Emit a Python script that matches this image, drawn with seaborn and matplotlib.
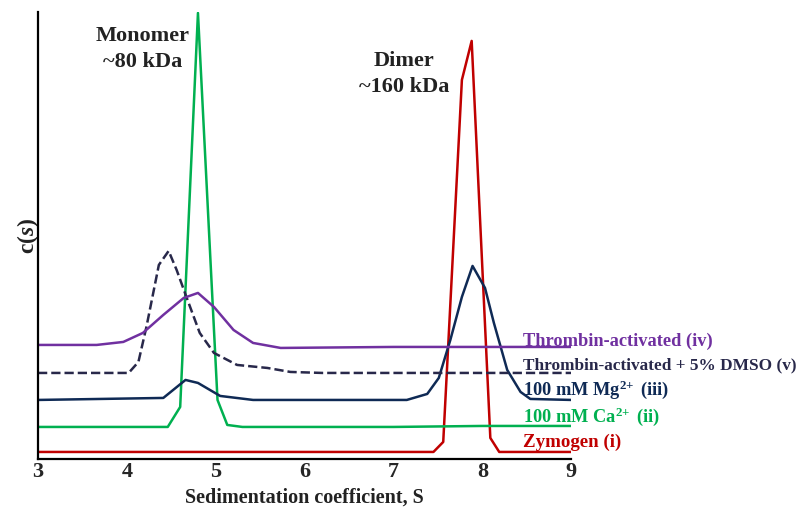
import pandas as pd
import matplotlib
matplotlib.use("Agg")
import matplotlib.pyplot as plt
import seaborn as sns

# Sedimentation coefficient (S) and c(s) in arbitrary units
zym_s = [3.0, 7.45, 7.56, 7.77, 7.88, 8.09, 8.19, 9.0]
zym_c = [7, 7, 17, 379, 418, 21, 7, 7]

ca_s = [3.0, 4.46, 4.60, 4.80, 5.02, 5.13, 5.3, 7.0, 8.0, 9.0]
ca_c = [32, 32, 52, 446, 59, 34, 32, 32, 33, 33]

mg_s = [3.0, 4.41, 4.66, 4.80, 5.05, 5.42, 7.15, 7.38, 7.51, 7.64, 7.77, 7.89,
        8.03, 8.13, 8.28, 8.43, 8.54, 9.0]
mg_c = [59, 61, 79, 76, 63, 59, 59, 65, 81, 119, 162, 193, 171, 136, 89, 67, 60, 59]

dmso_s = [3.0, 4.02, 4.13, 4.22, 4.36, 4.47, 4.56, 4.67, 4.82, 4.98, 5.24, 5.58,
          5.84, 6.2, 9.0]
dmso_c = [86, 86, 97, 132, 194, 208, 189, 162, 126, 106, 94, 91, 87, 86, 86]

thr_s = [3.0, 3.66, 3.96, 4.18, 4.41, 4.64, 4.80, 4.98, 5.2, 5.42, 5.73, 7.0, 9.0]
thr_c = [114, 114, 117, 126, 144, 161, 166, 152, 129, 116, 111, 112, 112]

x_ticks = [3, 4, 5, 6, 7, 8, 9]

series = [
    ("Zymogen (i)", zym_s, zym_c, "#c00000", "-", 17, 13.6),
    ("100 mM Ca$^{2\\!+}$ (ii)", ca_s, ca_c, "#00b050", "-", 42, 13.2),
    ("100 mM Mg$^{2\\!+}$ (iii)", mg_s, mg_c, "#0f2a55", "-", 69, 13.2),
    ("Thrombin-activated + 5% DMSO (v)", dmso_s, dmso_c, "#28284a", "--", 94, 12.4),
    ("Thrombin-activated (iv)", thr_s, thr_c, "#7030a0", "-", 118, 13.2),
]

sns.set_style("white")
plt.rcParams["font.family"] = ["Liberation Serif", "DejaVu Serif"]
plt.rcParams["font.weight"] = "bold"
plt.rcParams["mathtext.fontset"] = "custom"
plt.rcParams["mathtext.rm"] = "Liberation Serif:bold"
plt.rcParams["mathtext.it"] = "Liberation Serif:italic:bold"
plt.rcParams["mathtext.bf"] = "Liberation Serif:bold"

fig = plt.figure(figsize=(8, 5.18), dpi=100)
ax = fig.add_axes([0.0475, 0.114, 0.6665, 0.863])

for label, s, c, color, ls, ty, fs in series:
    df = pd.DataFrame({"s": s, "c": c})
    sns.lineplot(data=df, x="s", y="c", ax=ax, color=color, linestyle=ls,
                 linewidth=1.8, sort=False)
    ax.text(8.46, ty, label, color=color, fontsize=fs, fontweight="bold",
            va="center", ha="left", clip_on=False)

ax.text(4.18, 410, "Monomer\n~80 kDa", ha="center", va="center", fontsize=16,
        fontweight="bold", color="#222222", linespacing=1.4)
ax.text(7.12, 385, "Dimer\n~160 kDa", ha="center", va="center", fontsize=16,
        fontweight="bold", color="#222222", linespacing=1.35)

ax.set_xlim(3, 9)
ax.set_ylim(0, 447)
ax.set_xticks(x_ticks)
ax.set_xticklabels([str(t) for t in x_ticks], fontsize=16, fontweight="bold")
ax.set_yticks([])
ax.tick_params(axis="x", length=0, pad=2)
ax.set_xlabel("Sedimentation coefficient, S", fontsize=14.5, fontweight="bold",
              color="#222222", labelpad=4)
ax.set_ylabel("c($s$)", fontsize=17, fontweight="bold", color="#222222", labelpad=-2)

for side in ["top", "right"]:
    ax.spines[side].set_visible(False)
for side in ["left", "bottom"]:
    ax.spines[side].set_color("black")
    ax.spines[side].set_linewidth(1.6)

fig.savefig("out.png", dpi=100)
